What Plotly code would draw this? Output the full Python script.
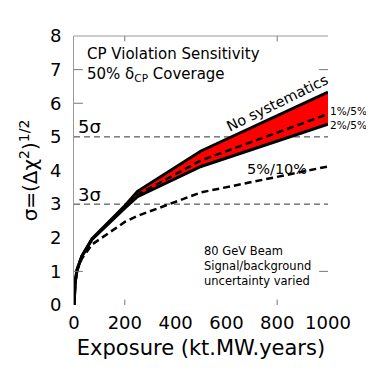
import plotly.graph_objects as go

# exposure points (kt.MW.years)
exposure = [0, 5, 12, 31, 71, 137, 200, 250, 500, 1000]

# sigma = sqrt(delta chi2), one list per systematics assumption
no_syst = [0, 0.70, 1.05, 1.45, 1.97, 2.47, 2.95, 3.38, 4.58, 6.33]
syst_1_5 = [0, 0.70, 1.05, 1.45, 1.96, 2.45, 2.92, 3.28, 4.30, 5.68]
syst_2_5 = [0, 0.70, 1.05, 1.45, 1.95, 2.43, 2.88, 3.22, 4.12, 5.38]
syst_5_10 = [0, 0.68, 1.02, 1.38, 1.80, 2.15, 2.47, 2.65, 3.35, 4.12]

x_ticks = [0, 200, 400, 600, 800, 1000]
y_ticks = [0, 1, 2, 3, 4, 5, 6, 7, 8]

# the few inside tick marks that show on the frame
x_marks = [200, 800]
y_marks_left = [1, 6, 7]
y_marks_right = [1, 7]

FONT = "DejaVu Sans"

fig = go.Figure()

# red band between no-systematics and 2%/5%
fig.add_trace(go.Scatter(x=exposure, y=syst_2_5, mode="lines",
                         line=dict(color="black", width=3)))
fig.add_trace(go.Scatter(x=exposure, y=no_syst, mode="lines", fill="tonexty",
                         fillcolor="#ff0000", line=dict(color="black", width=3)))
fig.add_trace(go.Scatter(x=exposure, y=syst_1_5, mode="lines",
                         line=dict(color="black", width=2.5, dash="7px,4px")))
fig.add_trace(go.Scatter(x=exposure, y=syst_5_10, mode="lines",
                         line=dict(color="black", width=2.5, dash="7px,4px")))

# 3 and 5 sigma reference lines
for s in (3, 5):
    fig.add_hline(y=s, line=dict(color="#333333", width=1, dash="6px,4px"), layer="below")

# frame: top line plus sparse ticks
fig.add_shape(type="line", xref="paper", yref="paper", x0=0, x1=1, y0=1, y1=1,
              line=dict(color="#999999", width=1))
tick = dict(color="#777777", width=1)
for v in x_marks:
    fig.add_shape(type="line", xref="x", yref="paper", x0=v, x1=v, y0=0, y1=0.02, line=tick)
    fig.add_shape(type="line", xref="x", yref="paper", x0=v, x1=v, y0=0.98, y1=1, line=tick)
for v in y_marks_left:
    fig.add_shape(type="line", xref="paper", yref="y", x0=0, x1=0.035, y0=v, y1=v, line=tick)
for v in y_marks_right:
    fig.add_shape(type="line", xref="paper", yref="y", x0=0.965, x1=1, y0=v, y1=v, line=tick)

def note(x, y, text, size, **kw):
    fig.add_annotation(x=x, y=y, text=text, showarrow=False,
                       font=dict(family=FONT, size=size, color="black"), **kw)

note(45, 7.78, "CP Violation Sensitivity<br>50% δ<sub>CP</sub> Coverage", 15,
     xanchor="left", yanchor="top", align="left")
note(6, 5.32, "5σ", 18, xanchor="left", yanchor="middle")
note(6, 3.30, "3σ", 18, xanchor="left", yanchor="middle")
note(800, 6.0, "No systematics", 14.5, textangle=-26)
note(1.0, 5.76, "1%/5%", 10.5, xref="paper", xanchor="left", yanchor="middle")
note(1.0, 5.36, "2%/5%", 10.5, xref="paper", xanchor="left", yanchor="middle")
note(801, 4.05, "5%/10%", 14.5)
note(502, 1.17, "80 GeV Beam<br>Signal/background<br>uncertainty varied", 11.5,
     xanchor="left", yanchor="middle", align="left")

# page body has an 8px margin, so the figure is 8px smaller than the window
fig.update_layout(
    width=366, height=366,
    margin=dict(l=66, r=46, t=28, b=69),
    plot_bgcolor="white", paper_bgcolor="white",
    showlegend=False,
    font=dict(family=FONT, color="black"),
    xaxis=dict(range=[0, 1000], tickvals=x_ticks, showgrid=False, zeroline=False,
               showline=False, ticks="", ticklabelstandoff=5, automargin=False,
               tickfont=dict(size=18),
               title=dict(text="Exposure (kt.MW.years)", font=dict(size=21), standoff=8)),
    yaxis=dict(range=[0, 8], tickvals=y_ticks, showgrid=False, zeroline=False,
               showline=True, linecolor="#999999", linewidth=1, ticks="",
               ticklabelstandoff=8, automargin=False, tickfont=dict(size=18),
               title=dict(text="σ=(Δχ<sup>2</sup>)<sup>1/2</sup>", font=dict(size=20),
                          standoff=6)),
)

fig.write_html("out.html")
